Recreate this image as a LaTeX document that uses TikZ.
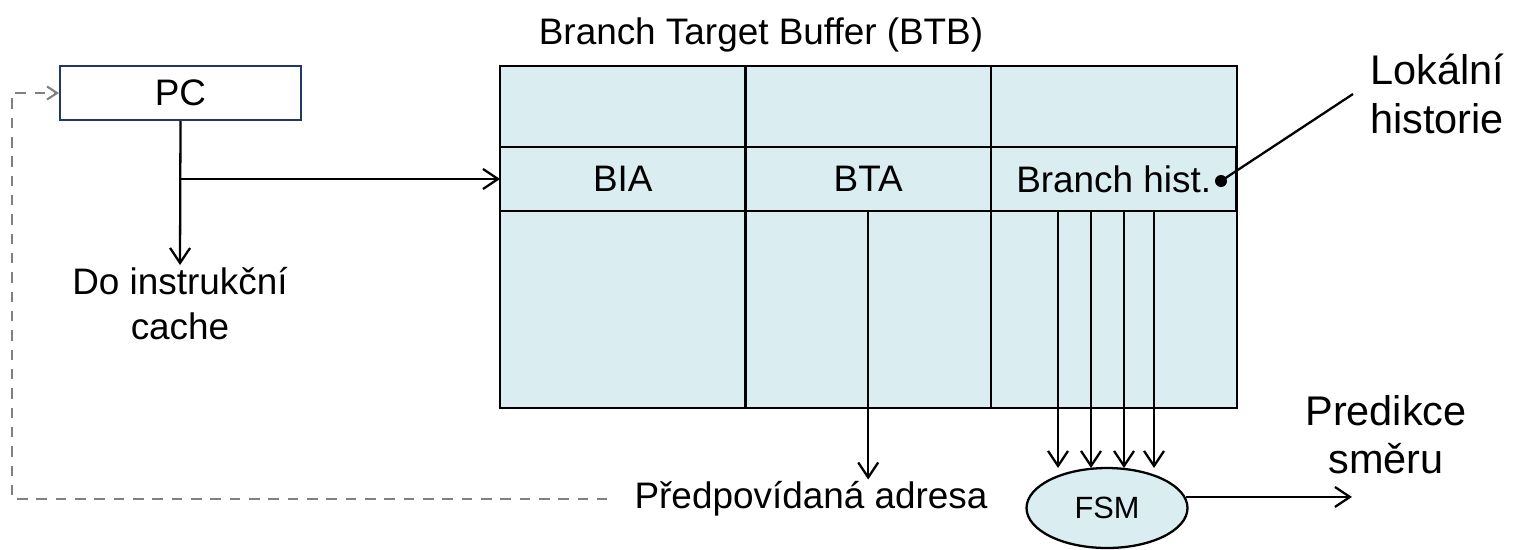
\documentclass[tikz,border=0pt]{standalone}
\usepackage{fontspec}
\setmainfont{Liberation Sans}
\usetikzlibrary{arrows.meta,positioning,shapes.geometric,calc}
\definecolor{btbfill}{RGB}{218,237,240}
\definecolor{pcblue}{RGB}{31,56,100}
\definecolor{backgray}{RGB}{128,128,128}

\begin{document}
\begin{tikzpicture}[x=0.02cm, y=-0.02cm,
  node distance=0mm and 0mm,
  txt/.style={font=\fontsize{21}{25.5}\selectfont, align=center, inner sep=1pt},
  big/.style={font=\fontsize{23.6}{27.5}\selectfont, align=center, inner sep=1pt},
  cell/.style={rectangle, draw, line width=1.4pt, fill=btbfill, outer sep=0pt, minimum width=4.91cm, minimum height=1.28cm, txt},
  arrow/.style={line width=1.3pt, -{Straight Barb[length=3mm, width=4mm]}},
  back/.style={line width=1.2pt, draw=backgray, dash pattern=on 6pt off 5pt}]

\useasboundingbox (0,0) rectangle (1513,549);

% BTB table
\draw[line width=1.4pt, fill=btbfill] (500,66) rectangle (1237,408);
\draw[line width=1.4pt] (745.5,66) -- (745.5,408) (991,66) -- (991,408);
\node[txt] (title) at (761,35) {Branch Target Buffer (BTB)};
\node[cell] (bia) at (622.75,179) {BIA};
\node[cell, right=of bia] (bta) {BTA};
\node[cell, right=of bta] (hist) {Branch hist.};
\node[circle, fill, inner sep=0pt, minimum size=0.24cm] (dot) at (1221,181) {};

% PC
\node[rectangle, draw=pcblue, line width=1.2pt, minimum width=4.82cm, minimum height=1.08cm, txt] (pc) at (180.5,93) {PC};
\node[txt, anchor=north] (cache) at (180,265) {Do instrukční\\cache};

\draw[arrow] (pc.south) -- (cache.north);
\draw[arrow] (pc.south |- bia.west) -- (bia.west);

% labels
\node[big] (lok) at (1437,94) {Lokální\\historie};
\coordinate (loktip) at (1353,94);
\draw[line width=1.3pt] (dot.center) -- (loktip);

\node[txt] (pred) at (811,499) {Předpovídaná adresa};
\draw[arrow] (bta.south) -- (bta.south |- pred.north);

\node[ellipse, draw, line width=1.3pt, fill=btbfill, minimum width=3.22cm, minimum height=1.6cm, font=\fontsize{17.5}{20}\selectfont] (fsm) at (1107,508) {FSM};
\coordinate (fsmin) at (1107,468);
\foreach \x in {1058,1091,1124,1154}
  \draw[arrow] (\x,0 |- hist.south) -- (\x,0 |- fsmin);

\node[big] (dir) at (1386,435) {Predikce\\směru};
\coordinate (dirtip) at (1352,0);
\draw[arrow] (fsm.8) -- (fsm.8 -| dirtip);

% feedback
\coordinate (corner) at (12,0);
\draw[back, shorten <=0.5cm, -{Straight Barb[length=2mm, width=2.6mm]}] (pred.west) -- (pred.west -| corner) |- (pc.west);

\end{tikzpicture}
\end{document}
